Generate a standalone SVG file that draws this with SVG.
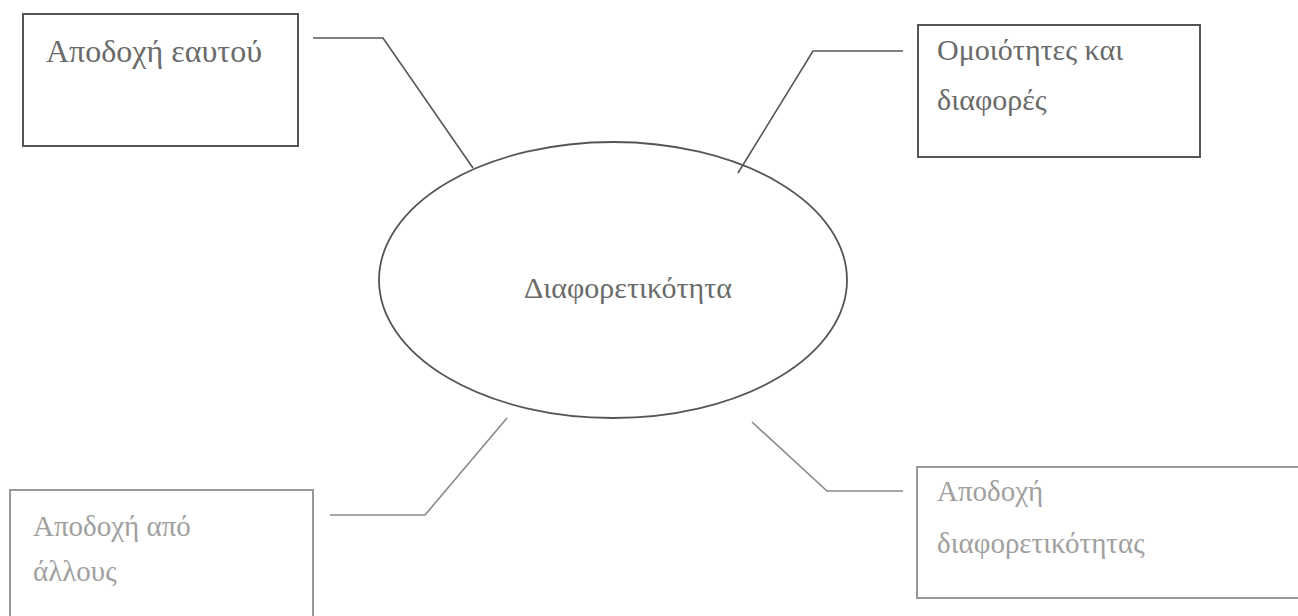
<svg xmlns="http://www.w3.org/2000/svg" width="1298" height="616" viewBox="0 0 1298 616">
<style>
.box{fill:#fff;stroke:#555;stroke-width:2}
.boxl{fill:#fff;stroke:#999;stroke-width:2}
.t{font-family:"Liberation Serif","DejaVu Serif",serif;font-size:30px;fill:#6a6a6a}
.tl{font-family:"Liberation Serif","DejaVu Serif",serif;font-size:29px;fill:#a0a0a0}
.c{fill:none;stroke:#555;stroke-width:1.6}
.cl{fill:none;stroke:#8a8a8a;stroke-width:1.6}
</style>
<rect width="1298" height="616" fill="#fff"/>
<g id="connectors">
<polyline class="c" points="313,38 383,38 473,168"/>
<polyline class="c" points="903,51 813,51 738,173"/>
<polyline class="cl" points="330,515 425,515 507,418"/>
<polyline class="cl" points="752,422 827,491 903,491"/>
</g>
<g id="center">
<ellipse cx="613" cy="280" rx="234" ry="138" fill="none" stroke="#555" stroke-width="1.8"/>
<text class="t" x="628" y="298" text-anchor="middle">Διαφορετικότητα</text>
</g>
<g id="n1">
<rect class="box" x="23" y="14" width="275" height="132"/>
<text class="t" x="46" y="62" style="font-size:32px">Αποδοχή εαυτού</text>
</g>
<g id="n2">
<rect class="box" x="918" y="25" width="282" height="132"/>
<text class="t" x="937" y="60">Ομοιότητες και</text>
<text class="t" x="937" y="110">διαφορές</text>
</g>
<g id="n3">
<rect class="boxl" x="10" y="490" width="303" height="140"/>
<text class="tl" x="33" y="536">Αποδοχή από</text>
<text class="tl" x="33" y="581">άλλους</text>
</g>
<g id="n4">
<rect class="boxl" x="917" y="467" width="400" height="131"/>
<text class="tl" x="937" y="501">Αποδοχή</text>
<text class="tl" x="937" y="553">διαφορετικότητας</text>
</g>
</svg>
